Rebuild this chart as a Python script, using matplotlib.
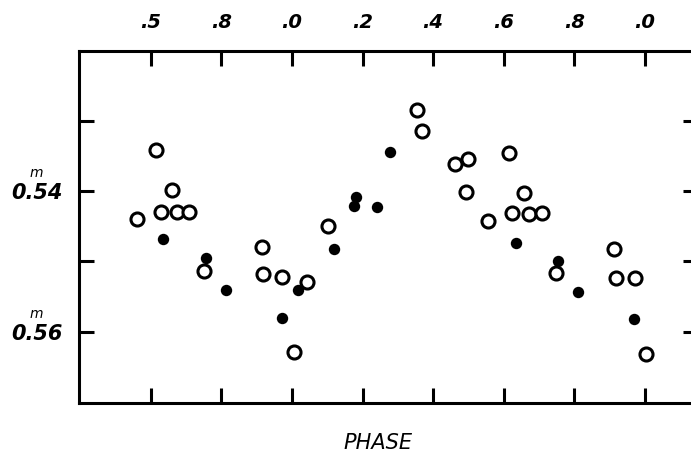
import matplotlib
matplotlib.use("Agg")
import matplotlib.pyplot as plt

# phase / magnitude (open circles and dots)
open_phase = [-0.440, -0.385, -0.371, -0.339, -0.325, -0.292, -0.249, -0.084, -0.081, -0.029,
              0.007, 0.044, 0.101, 0.353, 0.368, 0.462, 0.498, 0.492, 0.556, 0.616,
              0.624, 0.658, 0.673, 0.708, 0.748, 0.914, 0.918, 0.972, 1.003]
open_mag = [0.5439, 0.5342, 0.5430, 0.5399, 0.5430, 0.5430, 0.5513, 0.5479, 0.5518, 0.5522,
            0.5628, 0.5529, 0.5450, 0.5285, 0.5315, 0.5361, 0.5354, 0.5401, 0.5442, 0.5346,
            0.5431, 0.5403, 0.5432, 0.5431, 0.5516, 0.5482, 0.5523, 0.5523, 0.5631]

dot_phase = [-0.366, -0.245, -0.187, -0.029, 0.018, 0.119, 0.181, 0.177, 0.240, 0.278,
             0.635, 0.753, 0.812, 0.969]
dot_mag = [0.5468, 0.5495, 0.5541, 0.5580, 0.5541, 0.5482, 0.5409, 0.5421, 0.5422, 0.5345,
           0.5474, 0.5500, 0.5543, 0.5581]

phase_ticks = [-0.4, -0.2, 0.0, 0.2, 0.4, 0.6, 0.8, 1.0]
phase_labels = [".5", ".8", ".0", ".2", ".4", ".6", ".8", ".0"]
mag_ticks = [0.53, 0.54, 0.55, 0.56]
mag_labels = ["", "0.54", "", "0.56"]

fig = plt.figure(figsize=(6.91, 4.59), dpi=100)
ax = fig.add_axes([0.1143, 0.1220, 0.8958, 0.7669])

ax.plot(open_phase, open_mag, linestyle="none", marker="o", markersize=9.4,
        markerfacecolor="white", markeredgecolor="black", markeredgewidth=2.2)
ax.plot(dot_phase, dot_mag, linestyle="none", marker="o", markersize=8.2,
        markerfacecolor="black", markeredgewidth=0)

ax.set_xlim(-0.6037, 1.1508)
ax.set_ylim(0.5701, 0.5201)

for s in ax.spines.values():
    s.set_linewidth(2.2)

ax.set_xticks(phase_ticks)
ax.set_xticklabels(phase_labels, fontsize=14, fontstyle="italic", fontweight="bold")
ax.set_yticks(mag_ticks)
ax.set_yticklabels(mag_labels, fontsize=15, fontstyle="italic", fontweight="bold")
ax.tick_params(axis="x", direction="in", length=11, width=2.2, top=True, bottom=True,
               labeltop=True, labelbottom=False, pad=14)
ax.tick_params(axis="y", direction="in", length=11, width=2.2, left=True, right=True,
               labelleft=True, labelright=False, pad=12)

# superscript m over the decimal point
for m in [0.54, 0.56]:
    ax.annotate("m", xy=(0, m), xycoords=("axes fraction", "data"),
                xytext=(-31, 13), textcoords="offset points",
                fontsize=10, fontstyle="italic", ha="center", va="center")

fig.text(378 / 691, 1 - 443 / 459, "PHASE", fontsize=15, fontstyle="italic",
         ha="center", va="center")

fig.savefig("out.png", dpi=100)
